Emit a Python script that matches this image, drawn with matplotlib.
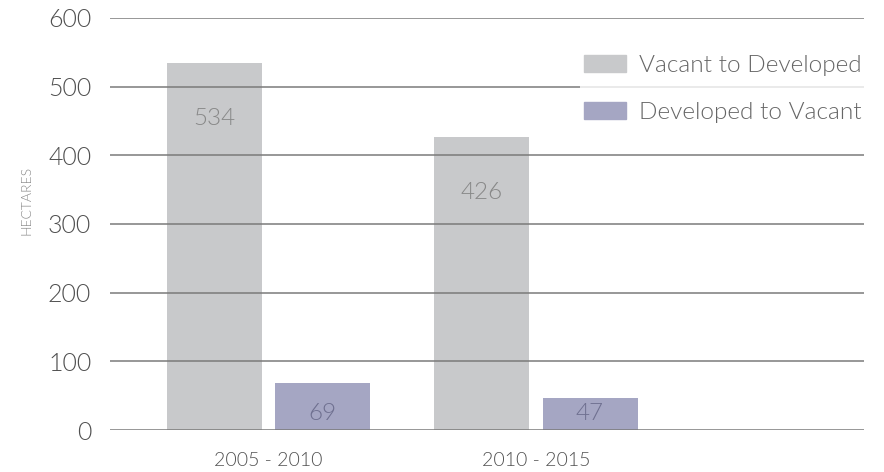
import matplotlib
matplotlib.use("Agg")
import matplotlib.pyplot as plt
import numpy as np
from matplotlib.patches import Patch

categories = ["2005 - 2010", "2010 - 2015"]
vacant_to_developed = [534, 426]
developed_to_vacant = [69, 47]
series_names = ["Vacant to Developed", "Developed to Vacant"]
y_ticks = [0, 100, 200, 300, 400, 500, 600]

plt.rcParams['font.family'] = ['Lato', 'DejaVu Sans']
plt.rcParams['font.weight'] = 300

W, H = 884, 472
fig = plt.figure(figsize=(W / 100, H / 100), dpi=100)
left, right, bottom, top = 110, 864, 430, 18
ax = fig.add_axes([left / W, 1 - bottom / H, (right - left) / W, (bottom - top) / H])

gray = "#c8c9cb"
purple = "#a5a6c3"
x = np.arange(len(categories))
bw = 0.355
off = 0.202
ax.bar(x - off, vacant_to_developed, bw, color=gray, zorder=1)
ax.bar(x + off, developed_to_vacant, bw, color=purple, zorder=1)

ax.set_ylim(0, 600)
ax.set_xlim(-0.5925, 2.226)
ax.set_yticks(y_ticks)
ax.yaxis.grid(True, color="#7a7a7a", linewidth=1.1, zorder=3)
ax.set_axisbelow(False)
for s in ax.spines.values():
    s.set_visible(False)
ax.tick_params(axis='y', length=0, pad=13.5, labelsize=18, labelcolor="#505050")
ax.set_xticks(x)
ax.set_xticklabels(categories)
ax.tick_params(axis='x', length=0, pad=16, labelsize=14, labelcolor="#505050")
for lab in ax.get_yticklabels() + ax.get_xticklabels():
    lab.set_fontweight(300)

fig.text(27 / W, 1 - 200 / H, "HECTARES", rotation=90, ha="center", va="center",
         fontsize=10, color="#888888", fontweight=300)

for i in range(len(categories)):
    for val, dx, col in [(vacant_to_developed[i], -off, "#888888"),
                         (developed_to_vacant[i], off, "#6f7090")]:
        ypos = max(val - 80, 24)
        ax.text(x[i] + dx, ypos, str(val), ha="center", va="center",
                fontsize=17.5, color=col, zorder=4, fontweight=300)

handles = [Patch(color=gray), Patch(color=purple)]
leg = fig.legend(handles, series_names, loc="upper right",
                 bbox_to_anchor=(867 / W, 1 - 50 / H), frameon=True,
                 prop={'size': 17.6, 'weight': 300}, handlelength=1.7, handleheight=0.7,
                 handletextpad=0.55, labelspacing=1.05, borderpad=0.2,
                 borderaxespad=0)
leg.get_frame().set_facecolor("white")
leg.get_frame().set_edgecolor("none")
leg.get_frame().set_alpha(0.8)
for t in leg.get_texts():
    t.set_color("#666666")

fig.savefig("out.png", dpi=100)
